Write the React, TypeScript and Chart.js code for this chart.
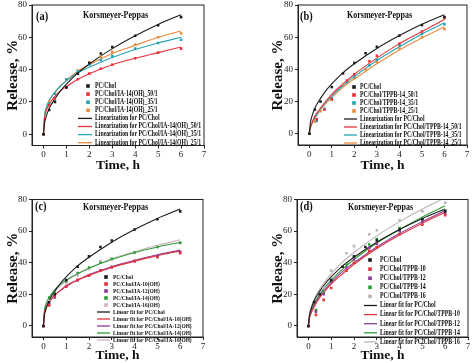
import React, { useEffect, useRef } from "react";
import { Chart, registerables } from "chart.js";

Chart.register(...registerables);

const SERIF = "'Liberation Serif', 'Times New Roman', serif";
const SQUISH = 0.8;

// ---------- axes / text ----------
const X_TICKS = [0, 1, 2, 3, 4, 5, 6, 7];
const Y_TICKS = [0, 20, 40, 60, 80];
const X_TITLE = "Time, h";
const Y_TITLE = "Release, %";
const MODEL = "Korsmeyer-Peppas";
const PANEL_TAGS = ["(a)", "(b)", "(c)", "(d)"];

// ---------- sampling times ----------
const T_STD = [0, 0.25, 0.5, 1, 1.5, 2, 2.5, 3, 4, 5, 6];
const T_TPPB = [0, 0.33, 0.67, 1, 1.67, 2, 2.67, 3, 4, 5, 6];
const T_FIT = [0, 0.05, 0.1, 0.25, 0.5, 0.75, 1, 1.5, 2, 3, 4, 5, 6];

// ---------- reference PC/Chol ----------
const PC_CHOL = [0, 15, 20, 29, 37.5, 44, 50, 54, 61, 67.5, 72.5];
const PC_CHOL_FIT = [0, 7, 10, 16, 22, 27, 31, 38, 43.5, 53, 61, 68, 74];

// ---------- panel (a) ----------
const A_POINT_LABELS = ["PC/Chol", "PC/Chol/IA-14(OH)_50/1", "PC/Chol/IA-14(OH)_35/1", "PC/Chol/IA-14(OH)_25/1"];
const A_FIT_LABELS = [
  "Linearization for PC/Chol",
  "Linearization for PC/Chol/IA-14(OH)_50/1",
  "Linearization for PC/Chol/IA-14(OH)_35/1",
  "Linearization for PC/Chol/IA-14(OH)_25/1",
];
const A_IA50 = [0, 18, 22, 29, 34, 37.5, 40.5, 43, 47, 50.5, 53];
const A_IA35 = [0, 19, 25, 34, 39, 43, 46, 48.5, 53, 56.5, 58.5];
const A_IA25 = [0, 20, 25, 34, 39.5, 44.5, 48, 51, 55.5, 60, 62.5];
const A_IA50_FIT = [0, 10.5, 13.5, 18.5, 23.5, 27, 29.5, 34, 37.5, 43, 47, 50.5, 54];
const A_IA35_FIT = [0, 12, 15.5, 21, 26, 30, 33, 38, 41.5, 47.5, 52.5, 56.5, 60];
const A_IA25_FIT = [0, 11.5, 14.5, 20.5, 26, 30, 33.5, 39, 43, 50, 55, 60, 64];

// ---------- panel (b) ----------
const B_POINT_LABELS = ["PC/Chol", "PC/Chol/TPPB-14_50/1", "PC/Chol/TPPB-14_35/1", "PC/Chol/TPPB-14_25/1"];
const B_FIT_LABELS = [
  "Linearization for PC/Chol",
  "Linearization for PC/Chol/TPPB-14_50/1",
  "Linearization for PC/Chol/TPPB-14_35/1",
  "Linearization for PC/Chol/TPPB-14_25/1",
];
const B_T50 = [0, 9, 15, 21.5, 33, 37, 45, 48.5, 56, 63.5, 72];
const B_T35 = [0, 8, 15.5, 22, 32, 35.5, 42.5, 46, 55, 62, 68];
const B_T25 = [0, 7.5, 14, 21, 31, 34.5, 40, 44.5, 53, 60, 65];
const B_T50_FIT = [0, 4, 6, 11, 16, 20.5, 24.5, 31, 37, 47, 56, 63.5, 71];
const B_T35_FIT = [0, 4, 6, 10, 15.5, 20, 23.5, 30, 35.5, 45.5, 54, 62, 69];
const B_T25_FIT = [0, 3.5, 5.5, 9.5, 15, 19, 22.5, 29, 34, 43.5, 52, 59.5, 66.5];

// ---------- panel (c) ----------
const C_POINT_LABELS = ["PC/Chol", "PC/Chol/IA-10(OH)", "PC/Chol/IA-12(OH)", "PC/Chol/IA-14(OH)", "PC/Chol/IA-16(OH)"];
const C_FIT_LABELS = [
  "Linear fit for PC/Chol",
  "Linear fit for PC/Chol/IA-10(OH)",
  "Linear fit for PC/Chol/IA-12(OH)",
  "Linear fit for PC/Chol/IA-14(OH)",
  "Linear fit for PC/Chol/IA-16(OH)",
];
const C_IA10 = [0, 13, 19, 25, 29, 32, 35, 37, 41, 43.5, 46];
const C_IA12 = [0, 13.5, 18, 25, 29, 32, 35, 37.5, 41, 44, 47];
const C_IA14 = [0, 18, 21, 28.5, 33.5, 37, 40, 42.5, 46.5, 50, 52.5];
const C_IA16 = [0, 16, 20, 27, 32, 36, 41, 42, 46.5, 50, 53];
const C_IA10_FIT = [0, 8.5, 11, 15, 19.5, 22.5, 25, 29, 32, 37, 41, 44.5, 47.5];
const C_IA12_FIT = [0, 8.5, 11, 15.5, 19.5, 22.5, 25.5, 29, 32.5, 37.5, 41.5, 45, 48];
const C_IA14_FIT = [0, 10.5, 13.5, 18, 23, 26.5, 29, 33, 36.5, 42, 46.5, 50, 53];
const C_IA16_FIT = [0, 9.5, 12.5, 17, 22, 25.5, 28.5, 33, 36.5, 42.5, 47, 51, 54.5];

// ---------- panel (d) ----------
const D_POINT_LABELS = ["PC/Chol", "PC/Chol/TPPB-10", "PC/Chol/TPPB-12", "PC/Chol/TPPB-14", "PC/Chol/TPPB-16"];
const D_FIT_LABELS = [
  "Linear fit for PC/Chol",
  "Linear fit for PC/Chol/TPPB-10",
  "Linear fit for PC/Chol/TPPB-12",
  "Linear fit for PC/Chol/TPPB-14",
  "Linear fit for PC/Chol/TPPB-16",
];
const D_T10 = [0, 7, 16.5, 24, 35, 40, 47.5, 50, 58, 64, 70];
const D_T12 = [0, 9, 20, 28, 37, 42, 49.5, 52, 60, 66, 71];
const D_T14 = [0, 10, 21, 29, 39, 43.5, 51.5, 55, 62, 68, 73];
const D_T16 = [0, 10, 24, 35, 46, 50.5, 58, 60.5, 67, 72.5, 78];
const D_T10_FIT = [0, 5, 7.5, 12, 18, 22.5, 26.5, 33, 39, 49, 57.5, 65, 72];
const D_T12_FIT = [0, 5.5, 8, 13, 19, 23.5, 27.5, 34.5, 40, 50, 58.5, 66, 73];
const D_T14_FIT = [0, 6, 8.5, 14, 20, 25, 29, 36, 42, 52.5, 61, 69, 76];
const D_T16_FIT = [0, 7.5, 10.5, 16.5, 23.5, 28.5, 33, 40.5, 46.5, 57, 66, 74, 81];

// ---------- colours ----------
const BLACK = "#1c1c1c";
const RED = "#e5323b";
const TEAL = "#25a5b4";
const ORANGE = "#e88b3d";
const PURPLE = "#8d3c9c";
const GREEN = "#2f9d3a";
const PINK = "#cbb4ba";
const GRAYP = "#bdb2b8";

function pts(label: string, xs: number[], ys: number[], color: string) {
  return {
    label,
    kind: "pt",
    data: xs.map((x, i) => ({ x, y: ys[i] })),
    showLine: false,
    pointStyle: "rect",
    pointRadius: 1.8,
    pointBorderWidth: 0,
    pointBackgroundColor: color,
    pointBorderColor: color,
    borderColor: color,
    backgroundColor: color,
  };
}

function fit(label: string, ys: number[], color: string) {
  return {
    label,
    kind: "line",
    data: T_FIT.map((x, i) => ({ x, y: ys[i] })),
    showLine: true,
    pointRadius: 0,
    borderColor: color,
    backgroundColor: color,
    borderWidth: 1.1,
    cubicInterpolationMode: "monotone",
    fill: false,
  };
}

const DATASETS = [
  [
    pts(A_POINT_LABELS[0], T_STD, PC_CHOL, BLACK),
    pts(A_POINT_LABELS[1], T_STD, A_IA50, RED),
    pts(A_POINT_LABELS[2], T_STD, A_IA35, TEAL),
    pts(A_POINT_LABELS[3], T_STD, A_IA25, ORANGE),
    fit(A_FIT_LABELS[0], PC_CHOL_FIT, BLACK),
    fit(A_FIT_LABELS[1], A_IA50_FIT, RED),
    fit(A_FIT_LABELS[2], A_IA35_FIT, TEAL),
    fit(A_FIT_LABELS[3], A_IA25_FIT, ORANGE),
  ],
  [
    pts(B_POINT_LABELS[0], T_STD, PC_CHOL, BLACK),
    pts(B_POINT_LABELS[1], T_TPPB, B_T50, RED),
    pts(B_POINT_LABELS[2], T_TPPB, B_T35, TEAL),
    pts(B_POINT_LABELS[3], T_STD, B_T25, ORANGE),
    fit(B_FIT_LABELS[0], PC_CHOL_FIT, BLACK),
    fit(B_FIT_LABELS[1], B_T50_FIT, RED),
    fit(B_FIT_LABELS[2], B_T35_FIT, TEAL),
    fit(B_FIT_LABELS[3], B_T25_FIT, ORANGE),
  ],
  [
    pts(C_POINT_LABELS[0], T_STD, PC_CHOL, BLACK),
    pts(C_POINT_LABELS[1], T_STD, C_IA10, RED),
    pts(C_POINT_LABELS[2], T_STD, C_IA12, PURPLE),
    pts(C_POINT_LABELS[3], T_STD, C_IA14, GREEN),
    pts(C_POINT_LABELS[4], T_STD, C_IA16, PINK),
    fit(C_FIT_LABELS[0], PC_CHOL_FIT, BLACK),
    fit(C_FIT_LABELS[1], C_IA10_FIT, RED),
    fit(C_FIT_LABELS[2], C_IA12_FIT, PURPLE),
    fit(C_FIT_LABELS[3], C_IA14_FIT, GREEN),
    fit(C_FIT_LABELS[4], C_IA16_FIT, PINK),
  ],
  [
    pts(D_POINT_LABELS[0], T_STD, PC_CHOL, BLACK),
    pts(D_POINT_LABELS[1], T_TPPB, D_T10, RED),
    pts(D_POINT_LABELS[2], T_TPPB, D_T12, PURPLE),
    pts(D_POINT_LABELS[3], T_TPPB, D_T14, GREEN),
    pts(D_POINT_LABELS[4], T_TPPB, D_T16, GRAYP),
    fit(D_FIT_LABELS[0], PC_CHOL_FIT, BLACK),
    fit(D_FIT_LABELS[1], D_T10_FIT, RED),
    fit(D_FIT_LABELS[2], D_T12_FIT, PURPLE),
    fit(D_FIT_LABELS[3], D_T14_FIT, GREEN),
    fit(D_FIT_LABELS[4], D_T16_FIT, GRAYP),
  ],
];

// ---------- layout (positions only) ----------
const PANELS = [
  { left: 0, top: 0, w: 237, h: 180, pad: { left: 0, right: 33, top: 5, bottom: 0 }, yW: 32, xH: 34.5, xTitlePad: 6,
    legend: { mx: 88, lx0: 78, lx1: 92, tx: 95, y0: 86, dy: 8.1, fs: 7.2 },
    tag: { x: 36, y: 17 }, model: { x: 83, y: 15 } },
  { left: 237, top: 0, w: 237, h: 180, pad: { left: 28, right: 7, top: 5, bottom: 0 }, yW: 33, xH: 35, xTitlePad: 6,
    legend: { mx: 117, lx0: 107, lx1: 120, tx: 123, y0: 87, dy: 8, fs: 7.2 },
    tag: { x: 63, y: 17 }, model: { x: 110, y: 15 } },
  { left: 0, top: 180, w: 237, h: 183, pad: { left: 0, right: 34, top: 19.5, bottom: 0 }, yW: 32, xH: 26, xTitlePad: -1,
    legend: { mx: 106, lx0: 97, lx1: 110, tx: 113, y0: 97, dy: 7, fs: 6.8 },
    tag: { x: 35, y: 27 }, model: { x: 83, y: 27 } },
  { left: 237, top: 180, w: 237, h: 183, pad: { left: 28, right: 6, top: 19.5, bottom: 0 }, yW: 32, xH: 26, xTitlePad: -1,
    legend: { mx: 133, lx0: 127, lx1: 140, tx: 143, y0: 80, dy: 9.1, fs: 7.3 },
    tag: { x: 63, y: 27 }, model: { x: 111, y: 27 } },
];

function squishText(ctx: CanvasRenderingContext2D, text: string, x: number, y: number, font: string) {
  ctx.save();
  ctx.translate(x, y);
  ctx.scale(SQUISH, 1);
  ctx.font = font;
  ctx.fillStyle = "#111";
  ctx.textBaseline = "middle";
  ctx.textAlign = "left";
  ctx.fillText(text, 0, 0);
  ctx.restore();
}

function Panel({ idx }: { idx: number }) {
  const ref = useRef<HTMLCanvasElement>(null);
  const P = PANELS[idx];

  useEffect(() => {
    const L = P.legend;
    const decor = {
      id: "decor",
      afterDatasetsDraw(chart: any) {
        const ctx = chart.ctx as CanvasRenderingContext2D;
        const a = chart.chartArea;
        ctx.save();
        // frame
        ctx.strokeStyle = "#222";
        ctx.lineWidth = 1;
        ctx.strokeRect(a.left, a.top, a.right - a.left, a.bottom - a.top);
        // legend
        chart.data.datasets.forEach((ds: any, i: number) => {
          const y = L.y0 + i * L.dy;
          if (ds.kind === "pt") {
            ctx.fillStyle = ds.borderColor;
            ctx.fillRect(L.mx - 1.8, y - 1.8, 3.6, 3.6);
          } else {
            ctx.strokeStyle = ds.borderColor;
            ctx.lineWidth = 1.3;
            ctx.beginPath();
            ctx.moveTo(L.lx0, y);
            ctx.lineTo(L.lx1, y);
            ctx.stroke();
          }
          squishText(ctx, ds.label, L.tx, y, `bold ${L.fs}px ${SERIF}`);
        });
        // annotations
        squishText(ctx, PANEL_TAGS[idx], P.tag.x, P.tag.y, `bold 13px ${SERIF}`);
        squishText(ctx, MODEL, P.model.x, P.model.y, `bold 10px ${SERIF}`);
        ctx.restore();
      },
    };

    const tickFont = { family: SERIF, size: 9 };
    const chart = new Chart(ref.current as HTMLCanvasElement, {
      type: "scatter",
      data: { datasets: DATASETS[idx] as any },
      options: {
        responsive: false,
        animation: false,
        devicePixelRatio: 1,
        layout: { padding: P.pad },
        plugins: { legend: { display: false }, tooltip: { enabled: false } },
        scales: {
          x: {
            type: "linear",
            min: -0.5,
            max: 7,
            afterBuildTicks: (s: any) => {
              s.ticks = X_TICKS.map((v) => ({ value: v }));
            },
            afterFit: (s: any) => {
              s.height = P.xH;
              s.paddingLeft = 0;
              s.paddingRight = 0;
            },
            ticks: { font: tickFont, color: "#222", padding: 1, maxRotation: 0, autoSkip: false },
            grid: { display: true, drawOnChartArea: false, drawTicks: true, tickLength: 3, color: "#222" },
            border: { display: true, color: "#222", width: 1 },
            title: {
              display: true,
              text: X_TITLE,
              color: "#111",
              font: { family: SERIF, size: 13.5, weight: "bold" },
              padding: { top: 0, bottom: P.xTitlePad },
            },
          },
          y: {
            type: "linear",
            min: -7,
            max: 80,
            afterBuildTicks: (s: any) => {
              s.ticks = Y_TICKS.map((v) => ({ value: v }));
            },
            afterFit: (s: any) => {
              s.width = P.yW;
              s.paddingTop = 0;
              s.paddingBottom = 0;
            },
            ticks: { font: tickFont, color: "#222", padding: 2, autoSkip: false },
            grid: { display: true, drawOnChartArea: false, drawTicks: true, tickLength: 3, color: "#222" },
            border: { display: true, color: "#222", width: 1 },
            title: {
              display: true,
              text: Y_TITLE,
              color: "#111",
              font: { family: SERIF, size: 15, weight: "bold" },
              padding: { top: 4, bottom: 0 },
            },
          },
        },
      } as any,
      plugins: [decor],
    });
    return () => chart.destroy();
  }, []);

  return (
    <canvas
      ref={ref}
      width={P.w}
      height={P.h}
      style={{ position: "absolute", left: P.left, top: P.top, width: P.w, height: P.h }}
    />
  );
}

export default function App() {
  return (
    <div
      style={{
        position: "fixed",
        left: 0,
        top: 0,
        width: 474,
        height: 363,
        background: "#ffffff",
        overflow: "hidden",
      }}
    >
      {PANELS.map((_, i) => (
        <Panel key={i} idx={i} />
      ))}
    </div>
  );
}
